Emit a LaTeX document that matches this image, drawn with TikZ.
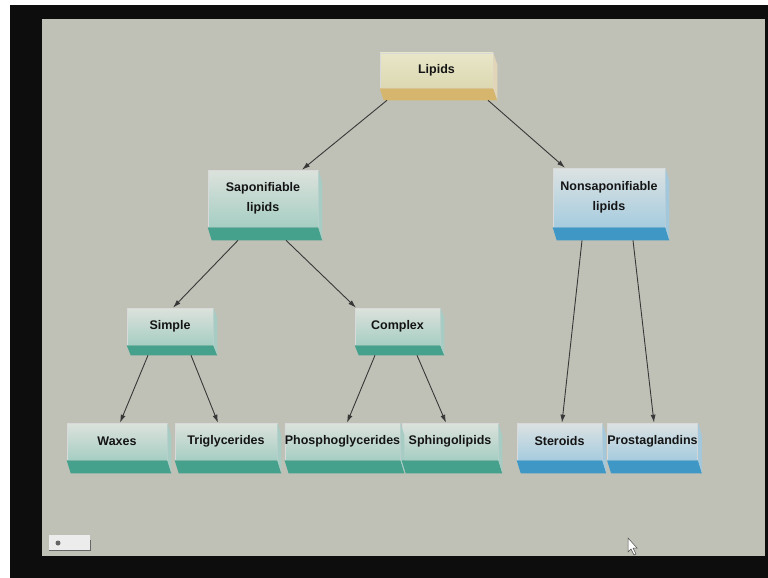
\documentclass[tikz,border=0pt]{standalone}
\usepackage{fontspec}
\setmainfont{Liberation Sans}
\usetikzlibrary{arrows.meta}

\definecolor{slidebg}{HTML}{BFC1B6}
\definecolor{tealtop}{HTML}{DCE2DC}
\definecolor{tealbot}{HTML}{A6CEC3}
\definecolor{tealband}{HTML}{45A08C}
\definecolor{bluetop}{HTML}{DCE2E2}
\definecolor{bluebot}{HTML}{A6CCDF}
\definecolor{blueband}{HTML}{3F97C6}
\definecolor{tantop}{HTML}{E8E6C8}
\definecolor{tanbot}{HTML}{DCD8B2}
\definecolor{tanband}{HTML}{D6B66C}

\tikzset{
  slab/.style={rectangle, draw=white!70!gray, line width=0.6pt, inner sep=0pt,
    align=center, text=black!92,
    font=\bfseries\fontsize{12.5}{19.5}\selectfont},
  tealbox/.style={slab, top color=tealtop, bottom color=tealbot},
  bluebox/.style={slab, top color=bluetop, bottom color=bluebot},
  tanbox/.style={slab, top color=tantop, bottom color=tanbot},
  arr/.style={-{Latex[length=8pt,width=5pt]}, draw=black!78, line width=0.9pt}
}

\begin{document}
\begin{tikzpicture}[x=1pt,y=-1pt]
   \useasboundingbox (0,0) rectangle (768,578);
   \fill[white] (0,0) rectangle (768,578);
   \fill[black!95] (10,5) rectangle (768,578);
   \fill[slidebg] (42,19) rectangle (765,556);

   \node[tanbox, minimum width=113, minimum height=35] (lipids) at (436.5,70.5) {Lipids};

   \node[tealbox, minimum width=110, minimum height=57] (sap) at (263,198.5) {Saponifiable\\lipids};
   \node[bluebox, minimum width=112, minimum height=59] (nonsap) at (609,197.5) {Nonsaponifiable\\lipids};

   \node[tealbox, minimum width=86, minimum height=37] (simple) at (170,326.5) {Simple};
   \node[tealbox, minimum width=85, minimum height=37] (complex) at (397.5,326.5) {Complex};

   \node[tealbox, minimum width=100, minimum height=37] (waxes) at (117,441.5) {Waxes};
   \node[tealbox, minimum width=102, minimum height=37] (trig) at (226,441.5) {Triglycerides};
   \node[tealbox, minimum width=105, minimum height=37] (phospho) at (342.5,441.5) {Phosphoglycerides};
   \node[tealbox, minimum width=96, minimum height=37] (sphingo) at (450,441.5) {Sphingolipids};
   \node[bluebox, minimum width=85, minimum height=37] (steroids) at (559.5,441.5) {Steroids};
   \node[bluebox, minimum width=89, minimum height=37] (prosta) at (652.5,441.5) {Prostaglandins};

   % bottom and side faces of the slabs
   \foreach \n/\c/\d in {lipids/tanband/12, sap/tealband/13, nonsap/blueband/13,
       simple/tealband/10, complex/tealband/10, waxes/tealband/13, trig/tealband/13,
       phospho/tealband/13, sphingo/tealband/13, steroids/blueband/13, prosta/blueband/13}{
     \fill[\c] (\n.south west) -- (\n.south east) -- ++(4,\d)
        -- ([shift={(4,\d)}]\n.south west) -- cycle;
     \fill[\c!45!white!90!gray] (\n.north east) -- ++(4,\d)
        -- ([shift={(4,\d)}]\n.south east) -- (\n.south east) -- cycle;
     \coordinate (\n-b) at ([shift={(0,\d)}]\n.south);
   }

   \draw[arr] ([xshift=-49.5pt]lipids-b) -- ([xshift=39pt]sap.north);
   \draw[arr] ([xshift=51.5pt]lipids-b) -- ([xshift=-44pt]nonsap.north);
   \draw[arr] ([xshift=-25pt]sap-b) -- ([xshift=3pt]simple.north);
   \draw[arr] ([xshift=23pt]sap-b) -- ([xshift=-41.5pt]complex.north);
   \draw[arr] ([xshift=-22pt]simple-b) -- ([xshift=3pt]waxes.north);
   \draw[arr] ([xshift=21pt]simple-b) -- ([xshift=-8pt]trig.north);
   \draw[arr] ([xshift=-22.5pt]complex-b) -- ([xshift=4.5pt]phospho.north);
   \draw[arr] ([xshift=19.5pt]complex-b) -- ([xshift=-4pt]sphingo.north);
   \draw[arr] ([xshift=-27pt]nonsap-b) -- ([xshift=2.5pt]steroids.north);
   \draw[arr] ([xshift=24pt]nonsap-b) -- ([xshift=1.5pt]prosta.north);

   % slide button and mouse pointer
   \fill[white!85!gray] (49,535) rectangle (90,550);
   \draw[black!60, line width=0.8pt] (49,550) -- (90,550) -- (90,540);
   \fill[black!60] (58,543) circle (2.5);
   \draw[fill=white, draw=black!70, line width=0.5pt] (628,538) -- (628,552) -- (631,549)
      -- (634,555) -- (636,554) -- (633,548) -- (637,548) -- cycle;
\end{tikzpicture}
\end{document}
